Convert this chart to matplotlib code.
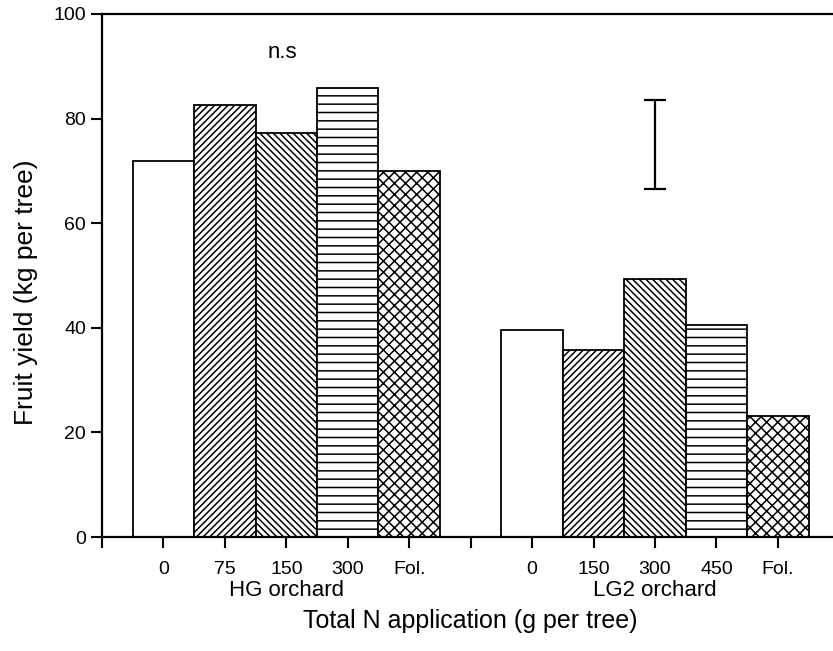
import numpy as np
import matplotlib.pyplot as plt

plt.rcParams['font.family'] = ['Liberation Sans', 'DejaVu Sans']
plt.rcParams['hatch.linewidth'] = 1.1

# yields per tree for the two orchards
hg_labels = ['0', '75', '150', '300', 'Fol.']
hg_yield = [71.9, 82.6, 77.2, 85.8, 70.0]
lg2_labels = ['0', '150', '300', '450', 'Fol.']
lg2_yield = [39.6, 35.8, 49.3, 40.5, 23.1]
hatches = ['', '/////', '\\\\\\\\\\', '--', 'xxx']

# LSD bar for LG2
lsd_center = 75.0
lsd_half = 8.5

fig = plt.figure(figsize=(8.33, 6.51), dpi=100)
ax = fig.add_axes([0.1225, 0.1751, 0.885, 0.8034])

hg_x = np.arange(1, 6)
lg2_x = np.arange(7, 12)
for x, y, h in zip(hg_x, hg_yield, hatches):
    ax.bar(x, y, width=1.0, facecolor='white', edgecolor='black', hatch=h, linewidth=1.3)
for x, y, h in zip(lg2_x, lg2_yield, hatches):
    ax.bar(x, y, width=1.0, facecolor='white', edgecolor='black', hatch=h, linewidth=1.3)

ax.errorbar(9, lsd_center, yerr=lsd_half, fmt='none', ecolor='black',
            elinewidth=1.6, capsize=8, capthick=1.6)
ax.text(2.93, 92.7, 'n.s', fontsize=16, ha='center', va='center')

ax.set_xlim(0, 12)
ax.set_ylim(0, 100)
ax.set_xticks(np.arange(0, 13))
ax.set_xticklabels([''] + hg_labels + [''] + lg2_labels + [''])
ax.set_yticks(np.arange(0, 101, 20))
ax.tick_params(axis='both', direction='out', length=8, width=1.5, labelsize=14)
ax.tick_params(axis='x', pad=9)
for s in ax.spines.values():
    s.set_linewidth(1.6)

ax.text(3, -10.2, 'HG orchard', fontsize=16, ha='center', va='center')
ax.text(9, -10.2, 'LG2 orchard', fontsize=16, ha='center', va='center')
ax.set_xlabel('Total N application (g per tree)', fontsize=18)
ax.xaxis.set_label_coords(0.5, -0.138)
ax.set_ylabel('Fruit yield (kg per tree)', fontsize=19)
ax.yaxis.set_label_coords(-0.087, 0.468)

fig.savefig('out.png', dpi=100)
